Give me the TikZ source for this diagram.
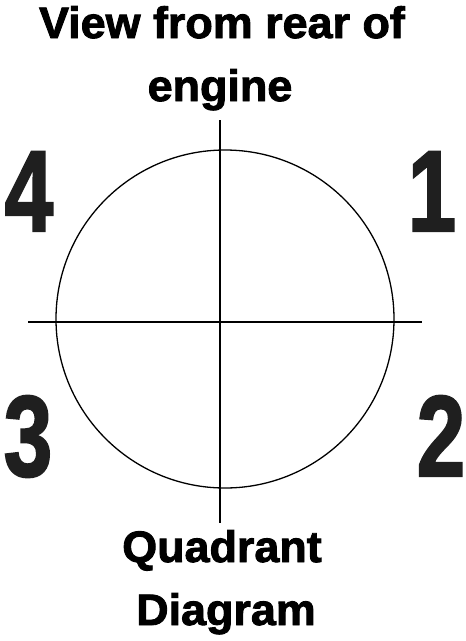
\documentclass[tikz,border=0pt]{standalone}
\usepackage{fontspec}
\setmainfont{Liberation Sans}
\newfontfamily\heavy{Liberation Sans}[BoldFeatures={FakeBold=2}]
\usepackage{tikz}
\usetikzlibrary{positioning}
\tikzstyle{title} = [font=\heavy\bfseries\fontsize{44}{44}\selectfont, inner sep=0pt, anchor=base, xscale=1.02]
\tikzstyle{num} = [font=\heavy\bfseries\fontsize{115}{115}\selectfont, inner sep=0pt, anchor=base, xscale=0.76, text=black!88]
\tikzstyle{axis} = [line width=1.3pt]

\begin{document}
\begin{tikzpicture}[x=1pt,y=-1pt]
	\useasboundingbox (0,0) rectangle (466,641);
	\node (ring) [circle, minimum size=338pt, draw=black, line width=1.3pt, inner sep=0pt] at (225,319) {};
	\coordinate (top) at (220,120);
	\coordinate (bot) at (220,523);
	\coordinate (lft) at (28,322);
	\coordinate (rgt) at (422,322);
	\draw[axis] (top) -- (bot);
	\draw[axis] (lft) -- (rgt);
	\node (t1) [title] at (222,38) {View from rear of};
	\node (t2) [title] at (220,101) {engine};
	\node (q1) [title] at (222,562) {Quadrant};
	\node (q2) [title] at (226,625) {Diagram};
	\node (n4) [num] at (29,231) {4};
	\node (n1) [num] at (432,231) {1};
	\node (n3) [num] at (28,476) {3};
	\node (n2) [num] at (441,476) {2};
\end{tikzpicture}
\end{document}
